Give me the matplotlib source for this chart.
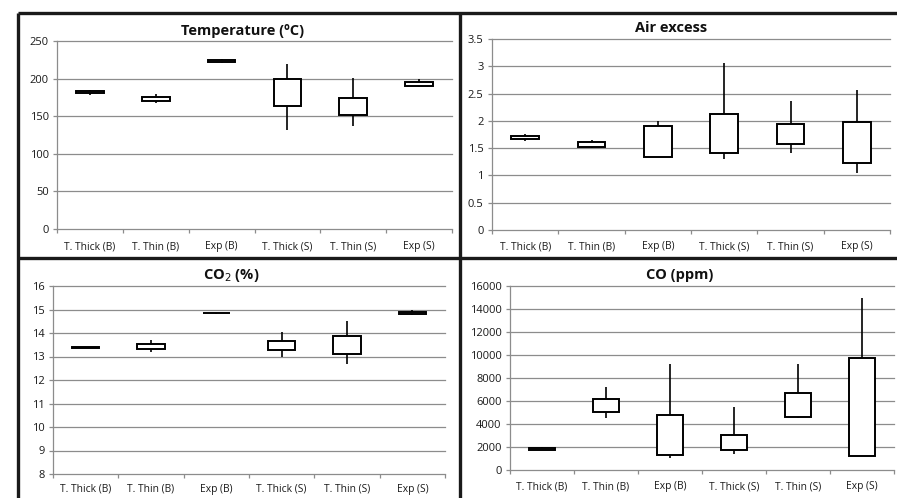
import matplotlib
matplotlib.use("Agg")
import matplotlib.pyplot as plt
from matplotlib.lines import Line2D
import numpy as np

plt.rcParams["font.family"] = ["Open Sans", "DejaVu Sans"]

categories = ["T. Thick (B)", "T. Thin (B)", "Exp (B)",
              "T. Thick (S)", "T. Thin (S)", "Exp (S)"]

# low / box bottom / box top / high for each condition
temp_low = [178, 167, 221, 132, 137, 189]
temp_q1 = [181, 170, 222, 164, 151, 190.5]
temp_q3 = [184, 175, 225, 200, 174, 196]
temp_high = [185, 179, 226, 219, 201, 199]

air_low = [1.64, 1.51, 1.33, 1.30, 1.42, 1.04]
air_q1 = [1.67, 1.53, 1.34, 1.42, 1.58, 1.23]
air_q3 = [1.72, 1.61, 1.90, 2.12, 1.95, 1.97]
air_high = [1.76, 1.65, 2.00, 3.06, 2.37, 2.57]

co2_low = [13.37, 13.21, 14.82, 12.98, 12.68, 14.78]
co2_q1 = [13.38, 13.33, 14.83, 13.28, 13.09, 14.79]
co2_q3 = [13.40, 13.55, 14.85, 13.66, 13.87, 14.88]
co2_high = [13.41, 13.70, 14.86, 14.06, 14.51, 14.99]

co_low = [1700, 4530, 1010, 1415, 4480, 1240]
co_q1 = [1760, 5025, 1300, 1730, 4590, 1250]
co_q3 = [1880, 6180, 4765, 3000, 6670, 9760]
co_high = [1990, 7250, 9210, 5515, 9210, 14990]

W, H = 897, 498
fig = plt.figure(figsize=(W / 100, H / 100), dpi=100)
fig.patch.set_facecolor("white")


def px_axes(x0, y0, x1, y1):
    return fig.add_axes([x0 / W, 1 - y1 / H, (x1 - x0) / W, (y1 - y0) / H])


def draw_panel(ax, low, q1, q3, high, ymin, ymax, step, fmt, xpad=7):
    x = np.arange(len(categories))
    ax.vlines(x, low, high, color="black", lw=1.2, zorder=3)
    ax.bar(x, np.subtract(q3, q1), bottom=q1, width=0.42, facecolor="white",
           edgecolor="black", lw=1.4, zorder=4)
    ax.set_xlim(-0.5, len(categories) - 0.5)
    ax.set_ylim(ymin, ymax)
    yt = np.arange(ymin, ymax + step / 2, step)
    ax.set_yticks(yt)
    ax.set_yticklabels([fmt(v) for v in yt])
    for v in yt[1:]:
        ax.axhline(v, color="#8c8c8c", lw=0.9, zorder=1, clip_on=False)
    ax.set_xticks(x)
    ax.set_xticklabels(categories)
    ax.set_xticks(np.arange(-0.5, len(categories)), minor=True)
    ax.tick_params(axis="x", which="major", length=0, pad=xpad, labelsize=7.4, colors="#1a1a1a")
    ax.tick_params(axis="x", which="minor", length=3, direction="out", color="#8c8c8c", width=0.9)
    ax.tick_params(axis="y", length=3, direction="out", color="#8c8c8c", width=0.9,
                   labelsize=8, labelcolor="#1a1a1a", pad=3)
    for s in ("top", "right"):
        ax.spines[s].set_visible(False)
    for s in ("left", "bottom"):
        ax.spines[s].set_color("#8c8c8c")
        ax.spines[s].set_linewidth(0.9)
    ax.set_facecolor("white")


def num(v):
    return f"{v:g}"


ax1 = px_axes(57, 41, 452, 229)
draw_panel(ax1, temp_low, temp_q1, temp_q3, temp_high, 0, 250, 50, num, xpad=9)
ax2 = px_axes(492, 39, 890, 230)
draw_panel(ax2, air_low, air_q1, air_q3, air_high, 0, 3.5, 0.5, num, xpad=8)
ax3 = px_axes(53, 286, 445, 474)
draw_panel(ax3, co2_low, co2_q1, co2_q3, co2_high, 8, 16, 1, num)
ax4 = px_axes(510, 286, 894, 470)
draw_panel(ax4, co_low, co_q1, co_q3, co_high, 0, 16000, 2000, lambda v: f"{int(v)}", xpad=8)

# panel titles
title_kw = dict(ha="center", va="center", fontsize=10.5, fontweight="bold", color="#111")
fig.text(243 / W, 1 - 31 / H, "Temperature (ºC)", **title_kw)
fig.text(671 / W, 1 - 28 / H, "Air excess", **title_kw)
fig.text(231 / W, 1 - 275 / H, "CO$_2$ (%)", **title_kw)
fig.text(680 / W, 1 - 275 / H, "CO (ppm)", **title_kw)

# black frame separating the four charts
frame_kw = dict(color="#1a1a1a", lw=2.4, transform=fig.transFigure, solid_capstyle="butt")
for xs, ys in [((18, W), (13, 13)), ((18, W), (258, 258)),
               ((18, 18), (13, H)), ((460, 460), (13, H))]:
    fig.add_artist(Line2D([x / W for x in xs], [1 - y / H for y in ys], **frame_kw))

fig.savefig("out.png", dpi=100)
